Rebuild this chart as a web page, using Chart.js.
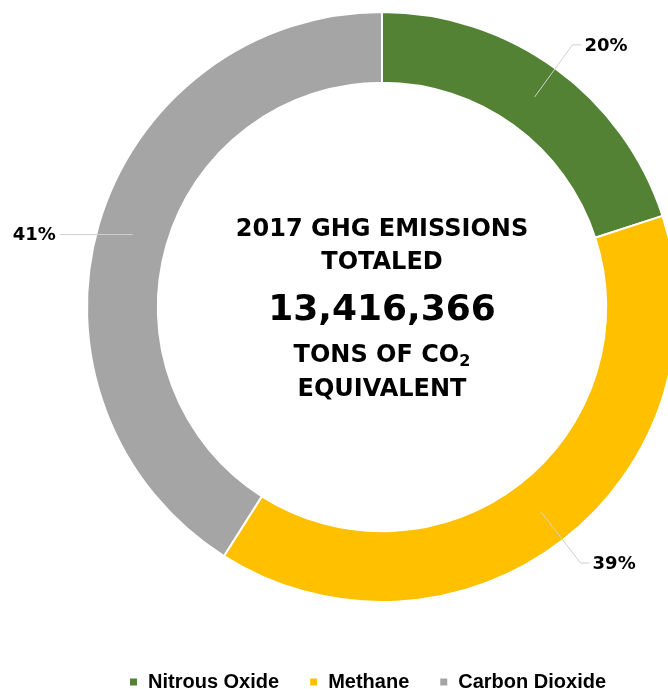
<!DOCTYPE html>
<html>
<head>
<meta charset="utf-8">
<script src="https://cdn.jsdelivr.net/npm/chart.js@4/dist/chart.umd.min.js"></script>
<style>
  html, body { margin: 0; padding: 0; background: #fff; overflow: hidden; }
  #wrap { width: 764px; height: 702px; position: relative; }
</style>
</head>
<body>
<div id="wrap"><canvas id="ghg_chart"></canvas></div>
<script>
const gas_labels = ['Nitrous Oxide', 'Methane', 'Carbon Dioxide'];
const gas_share = [20, 39, 41];
const gas_colors = ['#548235', '#FFC000', '#A5A5A5'];
const center_lines = ['2017 GHG EMISSIONS', 'TOTALED', '13,416,366', 'TONS OF CO', 'EQUIVALENT'];

// leader lines + percent labels
const leaderLabels = {
  id: 'leaderLabels',
  afterDatasetsDraw(chart) {
    const ctx = chart.ctx;
    const meta = chart.getDatasetMeta(0);
    const total = gas_share.reduce((a, b) => a + b, 0);
    ctx.save();
    ctx.font = 'bold 18px "DejaVu Sans"';
    ctx.textBaseline = 'middle';
    meta.data.forEach((arc, i) => {
      const mid = (arc.startAngle + arc.endAngle) / 2;
      const rMid = (arc.innerRadius + arc.outerRadius) / 2;
      const ax = arc.x + Math.cos(mid) * rMid;
      const ay = arc.y + Math.sin(mid) * rMid;
      let ex = arc.x + Math.cos(mid) * (arc.outerRadius + 29);
      let ey = arc.y + Math.sin(mid) * (arc.outerRadius + 29);
      if (Math.abs(Math.cos(mid)) > 0.9) ey = ay;
      const right = Math.cos(mid) >= 0;
      const hx = right ? ex + 9 : ex - 11;
      ctx.strokeStyle = '#D0D0D0';
      ctx.lineWidth = 1;
      ctx.beginPath();
      ctx.moveTo(ax, ay);
      ctx.lineTo(ex, ey);
      ctx.lineTo(hx, ey);
      ctx.stroke();
      ctx.fillStyle = '#000';
      ctx.textAlign = right ? 'left' : 'right';
      const txt = Math.round(gas_share[i] / total * 100) + '%';
      ctx.fillText(txt, right ? hx + 3 : hx - 4, ey + 1);
    });
    ctx.restore();
  }
};

const centerText = {
  id: 'centerText',
  afterDraw(chart) {
    const ctx = chart.ctx;
    const arc = chart.getDatasetMeta(0).data[0];
    const cx = arc.x;
    const cy = arc.y;
    ctx.save();
    ctx.fillStyle = '#000';
    ctx.textAlign = 'center';
    ctx.textBaseline = 'middle';
    ctx.font = 'bold 24px "DejaVu Sans"';
    ctx.fillText(center_lines[0], cx, cy - 77);
    ctx.fillText(center_lines[1], cx, cy - 44);
    ctx.font = 'bold 36px "DejaVu Sans"';
    ctx.fillText(center_lines[2], cx, cy + 4);
    // CO2 line with subscript
    ctx.font = 'bold 24px "DejaVu Sans"';
    const w1 = ctx.measureText(center_lines[3]).width;
    ctx.font = 'bold 16px "DejaVu Sans"';
    const w2 = ctx.measureText('2').width;
    const sx = cx - (w1 + w2) / 2;
    ctx.textAlign = 'left';
    ctx.font = 'bold 24px "DejaVu Sans"';
    ctx.fillText(center_lines[3], sx, cy + 49);
    ctx.font = 'bold 16px "DejaVu Sans"';
    ctx.fillText('2', sx + w1, cy + 55);
    ctx.textAlign = 'center';
    ctx.font = 'bold 24px "DejaVu Sans"';
    ctx.fillText(center_lines[4], cx, cy + 83);
    ctx.restore();
  }
};

const data_ghg = {
  labels: gas_labels,
  datasets: [{
    data: gas_share,
    backgroundColor: gas_colors,
    borderColor: '#FFFFFF',
    borderWidth: 2,
    clip: false,
  }]
};

const config_ghg = {
  type: 'doughnut',
  data: data_ghg,
  options: {
    responsive: true,
    maintainAspectRatio: false,
    animation: false,
    radius: 295,
    cutout: '76%',
    layout: { padding: { left: 99, right: 99, top: 0, bottom: 0 } },
    plugins: {
      tooltip: { enabled: false },
      legend: {
        position: 'bottom',
        align: 'start',
        title: { display: true, text: '', font: { size: 10 }, padding: { top: 16, bottom: 0 } },
        labels: {
          boxWidth: 9,
          boxHeight: 9,
          padding: 30,
          color: '#000',
          font: { family: '"Liberation Sans"', size: 20, weight: 'bold' }
        }
      }
    }
  },
  plugins: [leaderLabels, centerText]
};

const ghg_chart = new Chart(document.getElementById('ghg_chart'), config_ghg);
</script>
</body>
</html>
